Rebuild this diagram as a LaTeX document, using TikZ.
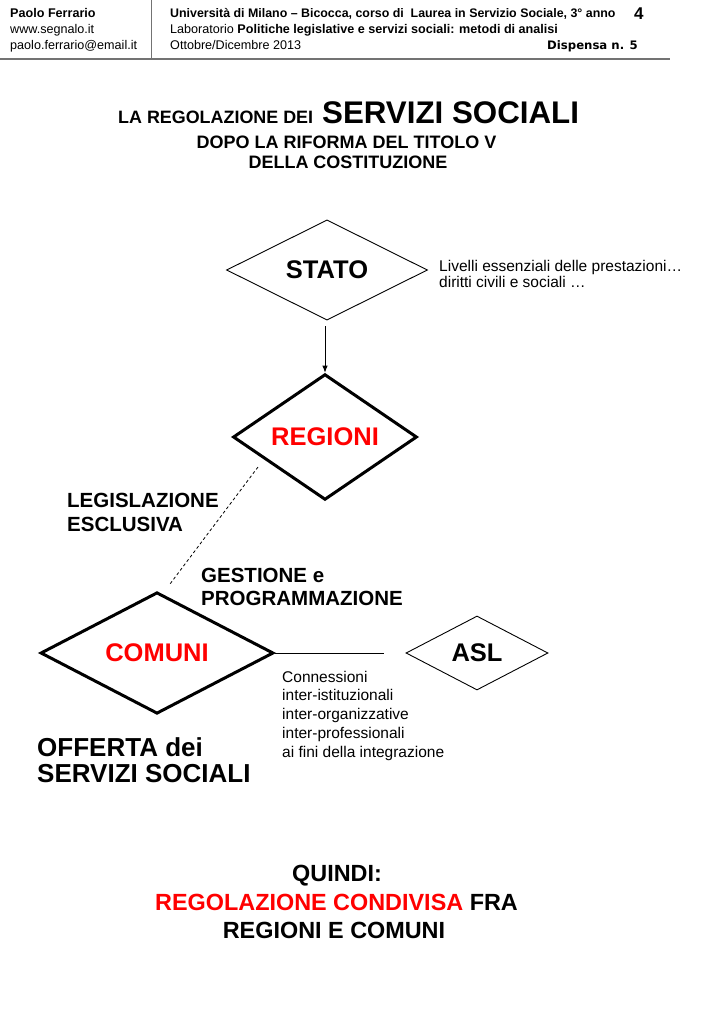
\documentclass[tikz,border=0pt]{standalone}
\usepackage{fontspec}
\setmainfont{Liberation Sans}
\newfontfamily\dejavu{DejaVu Sans}
\usetikzlibrary{shapes.geometric,arrows.meta}
\definecolor{rulegray}{gray}{0.45}
\tikzset{
  hdr/.style={anchor=base west, inner sep=0pt, font=\fontsize{12.6}{15}\selectfont},
  ttl/.style={anchor=base, inner sep=0pt, font=\fontsize{18}{21}\selectfont\bfseries},
  lbl/.style={anchor=base west, inner sep=0pt, font=\fontsize{20.5}{24}\selectfont\bfseries},
  big/.style={anchor=base west, inner sep=0pt, font=\fontsize{26}{30}\selectfont\bfseries},
  note/.style={anchor=base west, inner sep=0pt, font=\fontsize{15.5}{18}\selectfont},
  concl/.style={anchor=base, inner sep=0pt, font=\fontsize{23.4}{28}\selectfont\bfseries},
  dia/.style={diamond, draw, inner sep=0pt, font=\fontsize{25.5}{30}\selectfont\bfseries},
  thindia/.style={dia, line width=0.9pt},
  thickdia/.style={dia, line width=3pt},
}
\begin{document}
\begin{tikzpicture}[x=1pt,y=-1pt]
\useasboundingbox[fill=white] (0,0) rectangle (709,1024);

% header
\node[hdr, font=\fontsize{12.6}{15}\selectfont\bfseries] (h1) at (10,18) {Paolo Ferrario};
\node[hdr] (h2) at (10,34) {www.segnalo.it};
\node[hdr] (h3) at (10,50) {paolo.ferrario@email.it};
\node[hdr, font=\fontsize{12.4}{15}\selectfont\bfseries] (h4) at (170,18) {Università di Milano – Bicocca, corso di\ \ Laurea in Servizio Sociale, 3° anno};
\node[hdr] (h5) at (170,34) {Laboratorio \textbf{Politiche legislative e servizi sociali: metodi di analisi}};
\node[hdr] (h6) at (170,50) {Ottobre/Dicembre 2013};
\node[anchor=base west, inner sep=0pt, font=\fontsize{17}{20}\selectfont\bfseries] (pg) at (634,20) {4};
\node[anchor=base east, inner sep=0pt, font=\fontsize{11.7}{14}\selectfont\dejavu\bfseries] (disp) at (638,50) {Dispensa n. 5};
\coordinate (vr1) at (151,0);
\coordinate (vr2) at (151,59);
\coordinate (hr1) at (0,59);
\coordinate (hr2) at (670,59);
\draw[rulegray, line width=0.8pt] (vr1) -- (vr2);
\draw[rulegray, line width=1.6pt] (hr1) -- (hr2);

% title
\node[anchor=base west, inner sep=0pt, font=\fontsize{17.9}{21}\selectfont\bfseries] (t1) at (118,124) {LA REGOLAZIONE DEI};
\node[anchor=base west, inner sep=0pt, font=\fontsize{31.3}{36}\selectfont\bfseries] (t2) at (322,124) {SERVIZI SOCIALI};
\node[ttl] (t3) at (346.5,148.5) {DOPO LA RIFORMA DEL TITOLO V};
\node[ttl] (t4) at (348,168.5) {DELLA COSTITUZIONE};

% diamonds
\node[thindia, minimum width=201pt, minimum height=96pt] (stato) at (327,270) {STATO};
\node[thickdia, minimum width=184pt, minimum height=104pt, text=red] (regioni) at (325,437) {REGIONI};
\node[thickdia, minimum width=233pt, minimum height=121pt, text=red] (comuni) at (157,653) {COMUNI};
\node[thindia, minimum width=142pt, minimum height=74pt] (asl) at (477,653) {ASL};

% connectors
\coordinate (arrstart) at (325,326);
\draw[line width=0.8pt, -{Latex[length=7pt,width=5.5pt]}] (arrstart) -- (regioni.north);
\coordinate (d1) at (258,467);
\coordinate (d2) at (170,584);
\draw[line width=0.8pt, dash pattern=on 3pt off 2.5pt] (d1) -- (d2);
\coordinate (lend) at (384,653);
\draw[line width=1pt] (comuni.east) -- (lend);

% side texts
\node[note] (n1) at (439,271) {Livelli essenziali delle prestazioni…};
\node[note] (n2) at (439,287) {diritti civili e sociali …};

\node[lbl] (l1) at (67,507) {LEGISLAZIONE};
\node[lbl] (l2) at (67,531) {ESCLUSIVA};
\node[lbl] (g1) at (201,582) {GESTIONE e};
\node[lbl] (g2) at (201,605.5) {PROGRAMMAZIONE};

\node[note] (c1) at (282,682) {Connessioni};
\node[note] (c2) at (282,700.7) {inter-istituzionali};
\node[note] (c3) at (282,719.4) {inter-organizzative};
\node[note] (c4) at (282,738) {inter-professionali};
\node[note] (c5) at (282,757) {ai fini della integrazione};

\node[big] (o1) at (37,756) {OFFERTA dei};
\node[big] (o2) at (37,782) {SERVIZI SOCIALI};

% conclusion
\node[concl] (q1) at (337,881.5) {QUINDI:};
\node[concl] (q2) at (336.5,910.5) {{\color{red}REGOLAZIONE CONDIVISA} FRA};
\node[concl] (q3) at (334,938.5) {REGIONI E COMUNI};
\end{tikzpicture}
\end{document}
